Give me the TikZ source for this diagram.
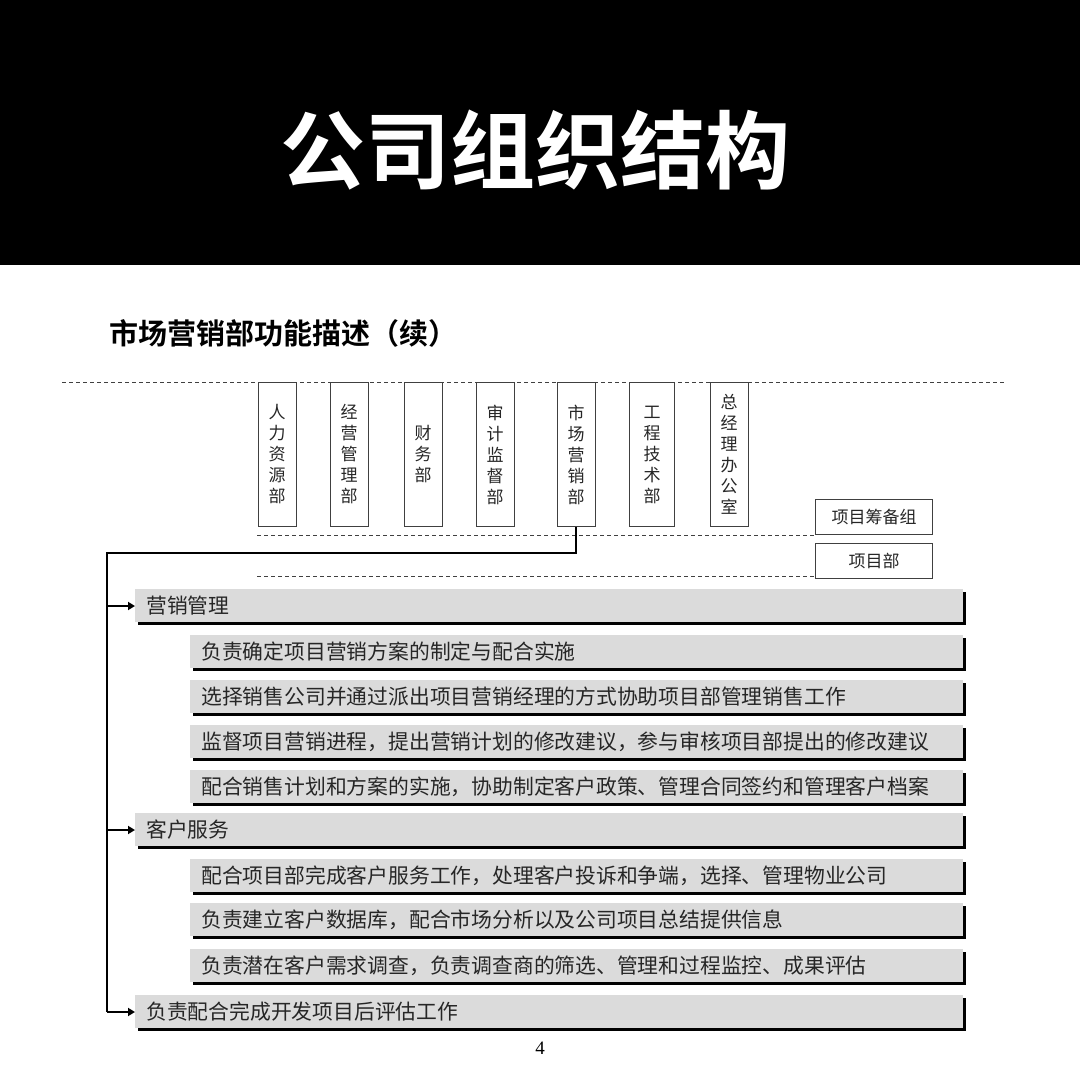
\documentclass[tikz,border=0pt]{standalone}
\usepackage{fontspec}
\setmainfont{Noto Sans CJK SC}
\newfontfamily\cjk{Noto Sans CJK SC}
\newfontfamily\cjkb{Noto Sans CJK SC Bold}
\newfontfamily\serifnum{Liberation Serif}
\usetikzlibrary{arrows.meta}
\begin{document}
\begin{tikzpicture}[x=1pt,y=-1pt,
  dept/.style={draw=black!75,line width=1pt,minimum width=38pt,minimum height=144pt,inner sep=0pt,align=center,font=\cjk\fontsize{17}{21}\selectfont,anchor=north,text=black!85},
  pbox/.style={draw=black!75,line width=1pt,minimum width=117pt,minimum height=35pt,font=\cjk\fontsize{17}{20}\selectfont,text=black!85},
  dsh/.style={dashed,black!75,line width=0.8pt,dash pattern=on 4pt off 3pt},
  conn/.style={line width=2.4pt,black},
  arr/.style={line width=2pt,-{Triangle[length=7pt,width=8pt]}}
]
\useasboundingbox (0,0) rectangle (1080,1070);
\fill[black] (0,0) rectangle (1080,265);
\node[text=white,font=\cjkb\fontsize{85}{95}\selectfont] (title) at (535,150) {公司组织结构};
\node[anchor=west,font=\cjkb\fontsize{29}{34}\selectfont] (sub) at (106,333) {市场营销部功能描述（续）};
\draw[dsh] (62,382) -- (1005,382);
\draw[dsh] (257,535) -- (815,535);
\draw[dsh] (257,576) -- (815,576);
\node[dept] (d1) at (277,382) {人\\力\\资\\源\\部};
\node[dept] (d2) at (349,382) {经\\营\\管\\理\\部};
\node[dept] (d3) at (423,382) {财\\务\\部};
\node[dept] (d4) at (495,382) {审\\计\\监\\督\\部};
\node[dept] (d5) at (576,382) {市\\场\\营\\销\\部};
\node[dept,minimum width=45pt] (d6) at (652,382) {工\\程\\技\\术\\部};
\node[dept] (d7) at (729,382) {总\\经\\理\\办\\公\\室};
\node[pbox] (p1) at (874,517) {项目筹备组};
\node[pbox] (p2) at (874,561) {项目部};
\coordinate (c1) at (576,553);
\coordinate (c2) at (107,553);
\coordinate (c3) at (107,1012);
\draw[conn] (d5.south) -- (c1) -- (c2) -- (c3);
\foreach \n/\x/\y/\t in {
 b1/135/606/营销管理,
 b2/190/652/负责确定项目营销方案的制定与配合实施,
 b3/190/697/选择销售公司并通过派出项目营销经理的方式协助项目部管理销售工作,
 b4/190/742/监督项目营销进程，提出营销计划的修改建议，参与审核项目部提出的修改建议,
 b5/190/787/配合销售计划和方案的实施，协助制定客户政策、管理合同签约和管理客户档案,
 b6/135/830/客户服务,
 b7/190/876/配合项目部完成客户服务工作，处理客户投诉和争端，选择、管理物业公司,
 b8/190/920/负责建立客户数据库，配合市场分析以及公司项目总结提供信息,
 b9/190/966/负责潜在客户需求调查，负责调查商的筛选、管理和过程监控、成果评估,
 b10/135/1012/负责配合完成开发项目后评估工作}{
  \fill[black!14] (\x,\y-17) rectangle (963,\y+16);
  \draw[line width=2.6pt] (\x+3,\y+17.5) -- (964.5,\y+17.5) -- (964.5,\y-14);
  \node[anchor=west,font=\cjk\fontsize{20.8}{24}\selectfont,text=black!85,inner sep=0pt] (\n) at (\x+11,\y) {\t};
}
\coordinate (a1) at (107,606);
\coordinate (a2) at (107,830);
\draw[arr] (a1) -- (135,606);
\draw[arr] (a2) -- (135,830);
\draw[arr] (c3) -- (135,1012);
\node[font=\serifnum\fontsize{19}{20}\selectfont] (pg) at (540,1048) {4};
\end{tikzpicture}
\end{document}
